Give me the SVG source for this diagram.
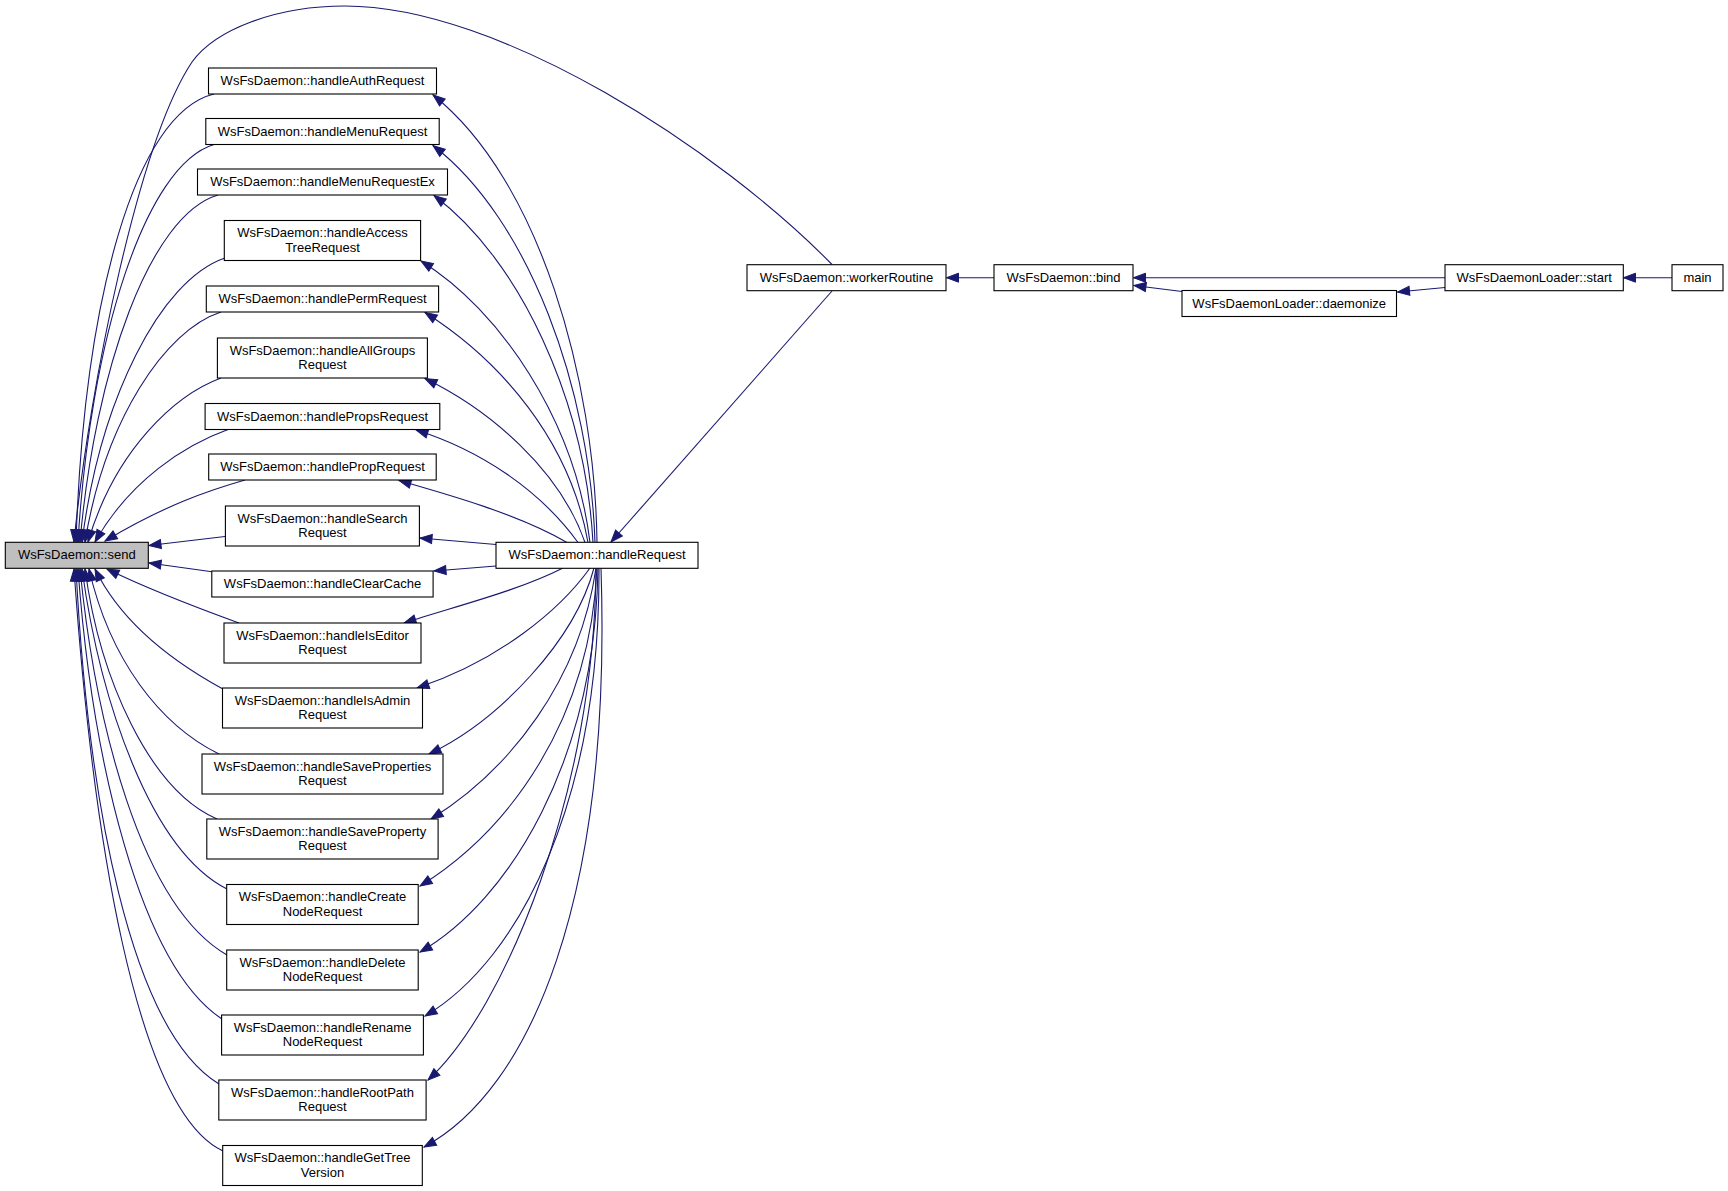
<svg xmlns="http://www.w3.org/2000/svg" width="1728" height="1191" viewBox="0 0 1728 1191">
<style>
.node rect{fill:#fff;stroke:#000;stroke-width:1.1}
.node.hl rect{fill:#bfbfbf}
.node text{font-family:"Liberation Sans",Arial,Helvetica,sans-serif;font-size:13px;text-anchor:middle;fill:#000}
.edges path{fill:none;stroke:#191970;stroke-width:1.1;marker-end:url(#arr)}
</style>
<defs>
<marker id="arr" markerUnits="userSpaceOnUse" markerWidth="13" markerHeight="11" refX="12" refY="5" orient="auto" overflow="visible">
<path d="M0,0.5 L12,5 L0,9.5 Z" fill="#191970" stroke="#191970" stroke-width="1"/>
</marker>
</defs>
<rect width="1728" height="1191" fill="#fff"/>
<g class="edges" id="edges">
<path d="M832,264.5 C720,150 500,6 345,6 C275,6 215,30 192,62 C140,140 90,380 74,542"/>
<path d="M214,94 C135,113 84,300 76,542"/>
<path d="M214,144.5 C145,165 90,340 78,542"/>
<path d="M218,195 C150,215 95,370 80,542"/>
<path d="M225,258 C160,280 100,400 82,542"/>
<path d="M221,312 C165,330 105,420 85,542"/>
<path d="M221,378 C175,395 115,450 88,542"/>
<path d="M228,429.5 C185,445 130,480 95,542"/>
<path d="M245,480 C210,490 165,505 105,541"/>
<path d="M225,536.5 L149,545.5"/>
<path d="M212,571.7 L149,563"/>
<path d="M239,623 C195,607 150,590 107,569"/>
<path d="M222,688.5 C170,660 120,620 95,569"/>
<path d="M219,754 C160,725 110,660 89,569"/>
<path d="M217,819 C150,790 100,680 85,569"/>
<path d="M227,889 C150,850 100,700 82,569"/>
<path d="M227,955 C140,905 95,720 80,569"/>
<path d="M222,1019 C140,965 92,760 78,569"/>
<path d="M219,1084 C130,1030 88,800 76,569"/>
<path d="M223,1151 C135,1110 92,830 74,569"/>
<path d="M597,542.5 C595,380 540,180 433,95"/>
<path d="M595,542.5 C590,390 530,220 433,145.5"/>
<path d="M593,542.5 C585,400 520,260 434,195.5"/>
<path d="M590,542.5 C575,420 500,310 421,261"/>
<path d="M588,542.5 C570,440 500,360 425,312.5"/>
<path d="M585,542.5 C560,470 490,410 425,378.5"/>
<path d="M578,542.5 C540,490 480,450 416,430"/>
<path d="M567,542.5 C520,515 450,495 399,480.5"/>
<path d="M496,544.5 L420,538"/>
<path d="M496,566 L434,571"/>
<path d="M563,568 C520,590 460,605 404,623"/>
<path d="M590,568 C560,610 500,660 417,688"/>
<path d="M594,568 C575,640 500,720 429,754"/>
<path d="M596,568 C580,680 510,770 431,819"/>
<path d="M597,568 C590,720 510,830 420,886"/>
<path d="M598,568 C595,760 510,900 420,952"/>
<path d="M599,568 C600,800 520,960 425,1016"/>
<path d="M596,568 C595,790 505,1010 428,1080"/>
<path d="M601,568 C612,900 530,1090 424,1147"/>
<path d="M832,291 L611,542"/>
<path d="M994,277.7 L946.5,277.7"/>
<path d="M1445,277.7 L1133.5,277.7"/>
<path d="M1182,291.5 L1134,285.5"/>
<path d="M1445,287.5 L1397.5,292"/>
<path d="M1672,277.7 L1623.5,277.7"/>
</g>
<g class="node hl" id="send"><rect x="5.3" y="542.3" width="143" height="26"/><text x="76.8" y="559.3">WsFsDaemon::send</text></g>
<g class="node" id="handleAuthRequest"><rect x="208.5" y="68" width="228" height="26"/><text x="322.5" y="85">WsFsDaemon::handleAuthRequest</text></g>
<g class="node" id="handleMenuRequest"><rect x="205.8" y="118.5" width="233.4" height="26"/><text x="322.5" y="135.5">WsFsDaemon::handleMenuRequest</text></g>
<g class="node" id="handleMenuRequestEx"><rect x="197.5" y="169" width="250" height="26"/><text x="322.5" y="186">WsFsDaemon::handleMenuRequestEx</text></g>
<g class="node" id="handleAccessTreeRequest"><rect x="224.3" y="220.5" width="196.3" height="40"/><text x="322.5" y="237">WsFsDaemon::handleAccess</text><text x="322.5" y="251.5">TreeRequest</text></g>
<g class="node" id="handlePermRequest"><rect x="206.3" y="286" width="232.3" height="26"/><text x="322.5" y="303">WsFsDaemon::handlePermRequest</text></g>
<g class="node" id="handleAllGroupsRequest"><rect x="217.4" y="338" width="210" height="40"/><text x="322.5" y="354.5">WsFsDaemon::handleAllGroups</text><text x="322.5" y="369">Request</text></g>
<g class="node" id="handlePropsRequest"><rect x="205.1" y="403.5" width="234.7" height="26"/><text x="322.5" y="420.5">WsFsDaemon::handlePropsRequest</text></g>
<g class="node" id="handlePropRequest"><rect x="208.7" y="454" width="227.5" height="26"/><text x="322.5" y="471">WsFsDaemon::handlePropRequest</text></g>
<g class="node" id="handleSearchRequest"><rect x="225.4" y="506" width="194" height="40"/><text x="322.5" y="522.5">WsFsDaemon::handleSearch</text><text x="322.5" y="537">Request</text></g>
<g class="node" id="handleClearCache"><rect x="211.8" y="571" width="221.3" height="26"/><text x="322.5" y="588">WsFsDaemon::handleClearCache</text></g>
<g class="node" id="handleIsEditorRequest"><rect x="224" y="623" width="197" height="40"/><text x="322.5" y="639.5">WsFsDaemon::handleIsEditor</text><text x="322.5" y="654">Request</text></g>
<g class="node" id="handleIsAdminRequest"><rect x="222.5" y="688" width="200" height="40"/><text x="322.5" y="704.5">WsFsDaemon::handleIsAdmin</text><text x="322.5" y="719">Request</text></g>
<g class="node" id="handleSavePropertiesRequest"><rect x="202" y="754" width="241" height="40"/><text x="322.5" y="770.5">WsFsDaemon::handleSaveProperties</text><text x="322.5" y="785">Request</text></g>
<g class="node" id="handleSavePropertyRequest"><rect x="206.8" y="819" width="231.3" height="40"/><text x="322.5" y="835.5">WsFsDaemon::handleSaveProperty</text><text x="322.5" y="850">Request</text></g>
<g class="node" id="handleCreateNodeRequest"><rect x="226.7" y="884.5" width="191.5" height="40"/><text x="322.5" y="901">WsFsDaemon::handleCreate</text><text x="322.5" y="915.5">NodeRequest</text></g>
<g class="node" id="handleDeleteNodeRequest"><rect x="226.7" y="950" width="191.5" height="40"/><text x="322.5" y="966.5">WsFsDaemon::handleDelete</text><text x="322.5" y="981">NodeRequest</text></g>
<g class="node" id="handleRenameNodeRequest"><rect x="221.6" y="1015" width="201.8" height="40"/><text x="322.5" y="1031.5">WsFsDaemon::handleRename</text><text x="322.5" y="1046">NodeRequest</text></g>
<g class="node" id="handleRootPathRequest"><rect x="218.8" y="1080" width="207.3" height="40"/><text x="322.5" y="1096.5">WsFsDaemon::handleRootPath</text><text x="322.5" y="1111">Request</text></g>
<g class="node" id="handleGetTreeVersion"><rect x="222.7" y="1145.5" width="199.6" height="40"/><text x="322.5" y="1162">WsFsDaemon::handleGetTree</text><text x="322.5" y="1176.5">Version</text></g>
<g class="node" id="handleRequest"><rect x="496" y="542.3" width="202" height="26"/><text x="597" y="559.3">WsFsDaemon::handleRequest</text></g>
<g class="node" id="workerRoutine"><rect x="747" y="264.7" width="199" height="26"/><text x="846.5" y="281.7">WsFsDaemon::workerRoutine</text></g>
<g class="node" id="bind"><rect x="994" y="264.7" width="139" height="26"/><text x="1063.5" y="281.7">WsFsDaemon::bind</text></g>
<g class="node" id="daemonize"><rect x="1182" y="290.5" width="214.5" height="26"/><text x="1289.2" y="307.5">WsFsDaemonLoader::daemonize</text></g>
<g class="node" id="start"><rect x="1445" y="264.7" width="178.3" height="26"/><text x="1534.2" y="281.7">WsFsDaemonLoader::start</text></g>
<g class="node" id="main"><rect x="1672" y="264.7" width="51" height="26"/><text x="1697.5" y="281.7">main</text></g>
</svg>
